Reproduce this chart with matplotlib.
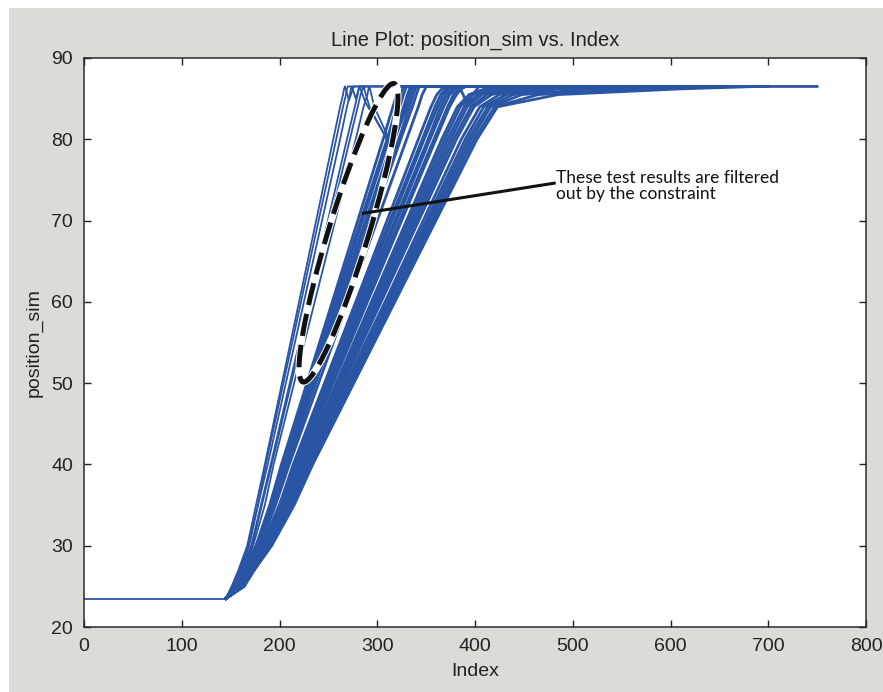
import numpy as np
import matplotlib.pyplot as plt
from matplotlib.patches import Ellipse, Rectangle
from matplotlib import transforms

# position levels crossed by each run, and the Index where each run crosses them
levels = [25, 27, 30, 35, 40, 60, 80, 84, 85.5, 86.2, 86.5]
crossings = [
    # fast runs (thin strands on the left)
    [151, 158, 167, 176, 185, 220, 255, 262, 265, 266, 267],
    [152, 159, 168, 178, 186, 222, 258, 265, 268, 269, 270],
    [152, 160, 169, 178, 188, 225, 262, 269, 272, 273, 274],
    [153, 161, 171, 181, 191, 230, 269, 277, 280, 281, 282],
    [154, 162, 172, 182, 192, 232, 272, 280, 283, 285, 286],
    [156, 164, 173, 185, 194, 236, 278, 286, 290, 291, 292],
    # second bundle (inside the dashed outline)
    [157, 164, 176, 190, 202, 254, 306, 316, 320, 322, 323],
    [157, 164, 176, 191, 203, 256, 310, 320, 324, 326, 327],
    [158, 165, 177, 192, 204, 258, 312, 323, 327, 329, 330],
    [158, 165, 177, 192, 205, 260, 316, 327, 331, 333, 334],
    [158, 166, 178, 193, 206, 262, 318, 329, 333, 335, 336],
    [158, 166, 178, 194, 207, 264, 322, 333, 337, 339, 340],
    [159, 166, 179, 195, 208, 266, 324, 336, 340, 342, 343],
    [159, 167, 180, 196, 210, 270, 330, 342, 346, 349, 350],
    # third bundle
    [160, 168, 182, 200, 214, 278, 342, 355, 361, 366, 370],
    [160, 168, 182, 200, 215, 280, 346, 359, 365, 370, 374],
    [160, 169, 183, 201, 216, 282, 348, 362, 368, 373, 377],
    [160, 169, 183, 202, 217, 284, 352, 365, 371, 377, 381],
    [161, 169, 184, 203, 218, 286, 354, 368, 374, 380, 384],
    [161, 169, 184, 203, 219, 288, 358, 372, 378, 384, 388],
    [161, 170, 185, 204, 220, 290, 360, 374, 381, 386, 391],
    # slowest bundle, settling gradually
    [161, 170, 186, 206, 222, 294, 366, 382, 394, 410, 430],
    [161, 170, 186, 206, 223, 296, 369, 385, 398, 415, 437],
    [162, 171, 187, 207, 224, 298, 372, 389, 403, 422, 447],
    [162, 171, 187, 208, 225, 300, 375, 392, 407, 428, 457],
    [162, 172, 188, 209, 226, 302, 378, 396, 412, 436, 470],
    [162, 172, 188, 209, 227, 304, 381, 399, 417, 444, 484],
    [163, 172, 189, 211, 228, 308, 386, 405, 425, 456, 504],
    [163, 173, 190, 212, 230, 310, 390, 409, 432, 470, 530],
    [163, 173, 190, 212, 231, 312, 393, 413, 439, 485, 553],
    [163, 174, 191, 214, 232, 314, 396, 416, 448, 520, 600],
    [163, 174, 191, 214, 233, 316, 399, 420, 465, 560, 640],
    [164, 174, 192, 215, 234, 318, 402, 423, 485, 610, 690],
]
end_index = [420, 430, 440, 450, 460, 470,
             470, 480, 490, 500, 510, 520, 530, 540,
             540, 550, 560, 570, 580, 590, 600,
             600, 605, 610, 615, 620, 625, 630, 640, 650, 660, 700, 750]

start_pos = 23.5
start_index = 145
final_pos = 86.5

# runs that overshoot and bounce before settling: extra (index, position) points
bounce = {
    0: ([271, 276], [84.8, 86.5]),
    2: ([278, 282], [85.0, 86.5]),
    3: ([288, 313, 336], [84.5, 79.5, 86.5]),
    4: ([292, 314, 338], [84.0, 79.0, 86.5]),
    5: ([297, 315, 340], [84.0, 79.2, 86.5]),
    18: ([392, 398, 404], [84.4, 85.5, 86.5]),
}

blue = '#2a55a5'

fig = plt.figure(figsize=(8.83, 6.92), dpi=100)
fig.patch.set_facecolor('white')
fig.patches.append(Rectangle((9 / 883, 0), 1 - 9 / 883, 684 / 692,
                             transform=fig.transFigure, facecolor='#dcdbd7',
                             edgecolor='none', zorder=-10))

ax = fig.add_axes([84 / 883, 1 - 627 / 692, 782 / 883, 569 / 692])
ax.set_facecolor('white')

ax.plot([0, start_index], [start_pos, start_pos], color=blue, lw=1.3)
for i, row in enumerate(crossings):
    xs = [start_index] + list(row)
    ys = [start_pos] + list(levels)
    if i in bounce:
        bx, by = bounce[i]
        xs += bx
        ys += by
    xs.append(end_index[i])
    ys.append(final_pos)
    ax.plot(xs, ys, color=blue, lw=2.0 if i >= 6 else 1.3)

# dashed outline around the filtered runs
cx, cy = 270.6, 68.5
tr = fig.dpi_scale_trans + transforms.ScaledTranslation(cx, cy, ax.transData)
ax.add_patch(Ellipse((0, 0), 3.12, 0.40, angle=73.0, transform=tr,
                     fill=False, edgecolor='white', lw=5.0, zorder=5))
ax.add_patch(Ellipse((0, 0), 3.12, 0.40, angle=73.0, transform=tr,
                     fill=False, edgecolor='#111111', lw=3.6,
                     linestyle=(0, (4.5, 1.8)), zorder=6))

ax.plot([285.8, 481.0], [70.9, 74.6], color='#111111', lw=2.2, zorder=7)
ax.text(483, 76.2, 'These test results are filtered\nout by the constraint',
        family=['Lato', 'DejaVu Sans'], fontsize=12.5,
        va='top', ha='left', linespacing=0.95, color='#111111', zorder=8)

ax.set_xlim(0, 800)
ax.set_ylim(20, 90)
ax.set_xticks(np.arange(0, 801, 100))
ax.set_yticks(np.arange(20, 91, 10))
ax.tick_params(direction='in', top=True, right=True, length=5, width=1,
               labelsize=14, colors='#222222', pad=8)
for s in ax.spines.values():
    s.set_color('#2b2b2b')
    s.set_linewidth(1.1)
for lab in ax.get_xticklabels() + ax.get_yticklabels():
    lab.set_family('Liberation Sans')

ax.set_title('Line Plot: position_sim vs. Index', family='Liberation Sans',
             fontsize=14.5, color='#222222', pad=9)
ax.set_xlabel('Index', family='Liberation Sans', fontsize=14, color='#222222',
              labelpad=6)
ax.set_ylabel('position_sim', family='Liberation Sans', fontsize=14,
              color='#222222', labelpad=6)

fig.savefig('out.png', dpi=100, facecolor=fig.get_facecolor())
